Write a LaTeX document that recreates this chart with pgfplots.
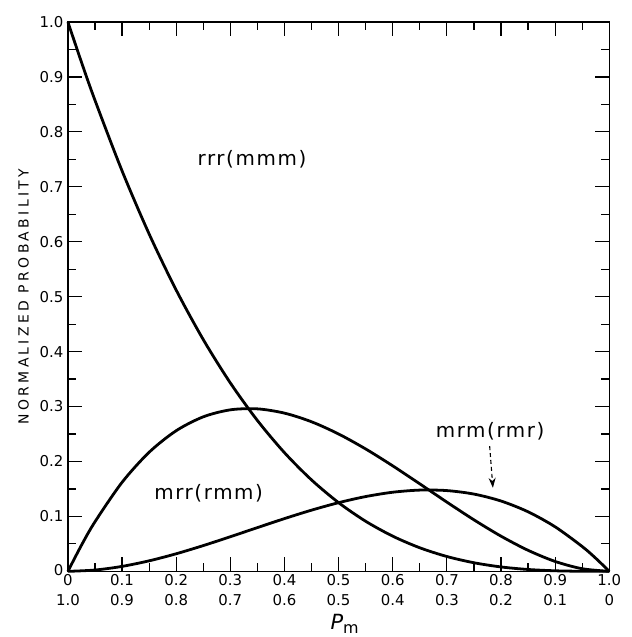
\documentclass[border=0pt]{standalone}
\usepackage{pgfplots}
\pgfplotsset{compat=1.18}
\usepackage{fontspec}
\setmainfont{DejaVu Sans}
\usetikzlibrary{arrows.meta}

\begin{document}
\begin{tikzpicture}
\tikzset{curve/.style={black, line width=2.8pt, smooth, no markers, line join=round}}
\begin{axis}[
  name=ax,
  scale only axis,
  width=542bp, height=550bp,
  xmin=0, xmax=1, ymin=0, ymax=1,
  xtick={0,0.1,...,1.01},
  ytick={0,0.1,...,1.01},
  minor x tick num=1, minor y tick num=1,
  tick pos=both, tick align=inside,
  major tick length=14bp, minor tick length=8bp,
  every tick/.style={black, line width=1.2pt},
  axis line style={line width=1.6pt},
  xticklabels={0\\1.0, 0.1\\0.9, 0.2\\0.8, 0.3\\0.7, 0.4\\0.6, 0.5\\0.5,
               0.6\\0.4, 0.7\\0.3, 0.8\\0.2, 0.9\\0.1, 1.0\\0},
  yticklabels={\raisebox{3bp}{0}, 0.1, 0.2, 0.3, 0.4, 0.5, 0.6, 0.7, 0.8, 0.9, 1.0},
  xticklabel style={align=center, font=\fontsize{15}{20}\selectfont, yshift=0bp},
  yticklabel style={font=\fontsize{15}{15}\selectfont, xshift=-1bp},
  xlabel={\textit{P}\raisebox{-0.4ex}{\fontsize{16}{16}\selectfont m}},
  xlabel style={font=\fontsize{21}{22}\selectfont, yshift=-1bp, xshift=6bp},
  ylabel={\addfontfeature{LetterSpace=24}NORMALIZED PROBABILITY},
  ylabel style={font=\fontsize{14}{14}\selectfont, yshift=4bp},
  clip=false,
]
% rrr (mmm): (1-P)^3
\addplot[curve] coordinates {
  (0,1) (0.025,0.92686) (0.05,0.85738) (0.1,0.729) (0.15,0.61413) (0.2,0.512)
  (0.25,0.42188) (0.3,0.343) (0.35,0.27463) (0.4,0.216) (0.45,0.16638)
  (0.5,0.125) (0.55,0.09113) (0.6,0.064) (0.65,0.04288) (0.7,0.027)
  (0.75,0.01563) (0.8,0.008) (0.85,0.00338) (0.9,0.001) (0.95,0.00013) (1,0)
};
% mrr (rmm): 2P(1-P)^2
\addplot[curve] coordinates {
  (0,0) (0.025,0.04753) (0.05,0.09025) (0.1,0.162) (0.15,0.21675) (0.2,0.256)
  (0.25,0.28125) (0.3,0.294) (0.35,0.29575) (0.4,0.288) (0.45,0.27225)
  (0.5,0.25) (0.55,0.22275) (0.6,0.192) (0.65,0.15925) (0.7,0.126)
  (0.75,0.09375) (0.8,0.064) (0.85,0.03825) (0.9,0.018) (0.95,0.00475) (1,0)
};
% mrm (rmr): P^2(1-P)
\addplot[curve] coordinates {
  (0,0) (0.05,0.00238) (0.1,0.009) (0.15,0.01913) (0.2,0.032)
  (0.25,0.04688) (0.3,0.063) (0.35,0.07963) (0.4,0.096) (0.45,0.11138)
  (0.5,0.125) (0.55,0.13613) (0.6,0.144) (0.65,0.14788) (0.7,0.147)
  (0.75,0.14063) (0.8,0.128) (0.85,0.10838) (0.9,0.081) (0.95,0.04513)
  (0.975,0.02377) (1,0)
};
\node[font=\fontsize{20}{20}\selectfont\addfontfeature{LetterSpace=8}] at (axis cs:0.34,0.75) {rrr(mmm)};
\node[font=\fontsize{20}{20}\selectfont\addfontfeature{LetterSpace=8}] at (axis cs:0.26,0.142) {mrr(rmm)};
\node[font=\fontsize{20}{20}\selectfont\addfontfeature{LetterSpace=8}] at (axis cs:0.78,0.255) {mrm(rmr)};
\draw[line width=1.1pt, dash pattern=on 4pt off 3pt, -{Stealth[length=10pt,width=7pt]}]
  (axis cs:0.779,0.228) -- (axis cs:0.785,0.152);
\end{axis}
\path (ax.south west) ++(-68bp,-65bp) (ax.north east) ++(22bp,22bp);
\end{tikzpicture}
\end{document}
